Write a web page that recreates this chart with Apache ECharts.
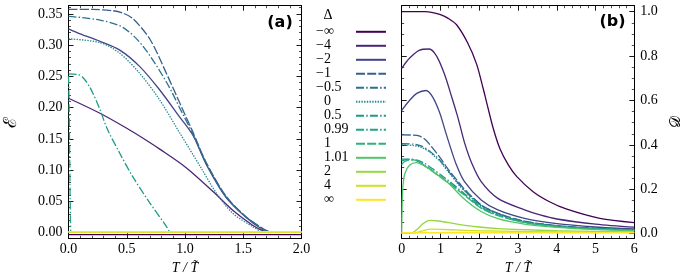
<!DOCTYPE html>
<html><head><meta charset="utf-8">
<script src="https://cdn.jsdelivr.net/npm/echarts@6/dist/echarts.min.js"></script>
<style>html,body{margin:0;padding:0;background:#fff}#c{width:686px;height:275px}</style>
</head><body><div id="c"></div>
<script>
// ---------- data ----------
const deltaNames = ['\u2212\u221e','\u22124','\u22122','\u22121','\u22120.5','0','0.5','0.99','1','1.01','2','4','\u221e'];
const colors = ['#440154','#482576','#414487','#35608d','#2c728e','#23898e','#1f9a8a','#22a385','#2db27d','#52c569','#95d840','#cde11d','#fde725'];
const dashes = ['solid','solid','solid','dashed','dashdot','dotted','dashdot','dashdot','dashed','solid','solid','solid','solid'];

// panel (a): E vs T/T~   [T, E]
const E_minf = [[0,-0.003],[2,-0.003]];
const E_m4 = [[0,0.215],[0.27,0.191],[0.5,0.167],[0.64,0.151],[0.78,0.134],[1.01,0.104],[1.24,0.066],[1.41,0.036],[1.58,0.012],[1.68,0.002],[1.72,0]];
const E_m2 = [[0,0.326],[0.1,0.318],[0.27,0.306],[0.44,0.292],[0.61,0.266],[0.78,0.229],[0.95,0.186],[1.07,0.155],[1.18,0.11],[1.35,0.057],[1.52,0.025],[1.65,0.007],[1.74,0]];
const E_m1 = [[0,0.357],[0.2,0.357],[0.38,0.355],[0.47,0.351],[0.555,0.342],[0.7,0.309],[0.84,0.255],[0.98,0.197],[1.07,0.16],[1.18,0.113],[1.35,0.059],[1.52,0.026],[1.69,0.004],[1.75,0]];
const E_m05 = [[0,0.346],[0.27,0.34],[0.47,0.328],[0.64,0.298],[0.84,0.241],[0.98,0.19],[1.07,0.157],[1.18,0.112],[1.35,0.058],[1.52,0.026],[1.69,0.004],[1.75,0]];
const E_0 = [[0,0.31],[0.27,0.304],[0.44,0.287],[0.61,0.255],[0.78,0.213],[0.95,0.161],[1.13,0.106],[1.27,0.063],[1.41,0.031],[1.58,0.0096],[1.67,0]];
const E_05 = [[0,0.254],[0.08,0.253],[0.12,0.249],[0.185,0.232],[0.27,0.197],[0.33,0.167],[0.44,0.127],[0.55,0.09],[0.7,0.047],[0.84,0.01],[0.87,0]];
const E_099 = [[0,0.25],[0.004,0.22],[0.008,0.16],[0.012,0.09],[0.016,0.03],[0.019,0]];
const E_1 = [[0,0.001],[2,0.001]];
const E_101 = [[0,0.001],[2,0.001]];
const E_2 = [[0,0.001],[2,0.001]];
const E_4 = [[0,0.001],[2,0.001]];
const E_inf = [[0,0.0015],[2,0.0015]];

// panel (b): D vs T/T~   [T, D]
const D_minf = [[0,1],[0.6,1],[0.8,0.996],[1.0,0.987],[1.2,0.97],[1.42,0.94],[1.7,0.86],[1.93,0.765],[2.1,0.655],[2.2,0.585],[2.36,0.475],[2.54,0.38],[2.75,0.31],[2.97,0.257],[3.39,0.189],[3.8,0.145],[4.26,0.11],[5.11,0.069],[6,0.05]];
const D_m4 = [[0,0.745],[0.2,0.79],[0.45,0.826],[0.71,0.832],[0.9,0.8],[1.1,0.72],[1.3,0.61],[1.43,0.535],[1.5,0.49],[1.62,0.41],[1.8,0.32],[2.05,0.234],[2.48,0.159],[3.17,0.107],[3.57,0.084],[4,0.066],[5,0.043],[6,0.029]];
const D_m2 = [[0,0.555],[0.2,0.6],[0.4,0.633],[0.63,0.645],[0.8,0.615],[0.98,0.545],[1.12,0.465],[1.2,0.42],[1.4,0.315],[1.62,0.234],[2.05,0.152],[2.48,0.107],[3.17,0.069],[4,0.045],[5,0.03],[6,0.021]];
const D_m1 = [[0,0.445],[0.3,0.444],[0.45,0.44],[0.6,0.425],[0.8,0.385],[1.0,0.34],[1.2,0.29],[1.5,0.225],[1.62,0.2],[2.05,0.13],[2.48,0.092],[3.17,0.056],[4,0.036],[5,0.024],[6,0.018]];
const D_m05 = [[0,0.405],[0.3,0.403],[0.5,0.395],[0.7,0.375],[0.9,0.345],[1.0,0.328],[1.2,0.283],[1.5,0.218],[1.62,0.195],[2.05,0.127],[2.48,0.09],[3.17,0.055],[4,0.035],[5,0.024],[6,0.017]];
const D_0 = [[0,0.4],[0.3,0.397],[0.5,0.389],[0.7,0.37],[0.9,0.34],[1.0,0.323],[1.2,0.279],[1.5,0.214],[1.62,0.192],[2.05,0.125],[2.48,0.088],[3.17,0.054],[4,0.034],[5,0.023],[6,0.017]];
const D_05 = [[0,0.336],[0.2,0.336],[0.4,0.331],[0.6,0.316],[0.8,0.292],[1.0,0.266],[1.2,0.24],[1.5,0.197],[1.62,0.18],[2.05,0.12],[2.48,0.085],[3.17,0.052],[4,0.033],[5,0.022],[6,0.016]];
const D_099 = [[0,0.328],[0.15,0.334],[0.35,0.33],[0.6,0.308],[0.8,0.284],[1.0,0.258],[1.2,0.233],[1.5,0.192],[1.62,0.176],[2.05,0.117],[2.48,0.083],[3.17,0.051],[4,0.032],[5,0.022],[6,0.016]];
const D_1 = [[0,0.31],[0.05,0.322],[0.15,0.33],[0.3,0.332],[0.45,0.325],[0.6,0.305],[0.8,0.28],[1.0,0.254],[1.2,0.229],[1.5,0.189],[1.62,0.173],[2.05,0.115],[2.48,0.081],[3.17,0.05],[4,0.031],[5,0.021],[6,0.015]];
const D_101 = [[0,0],[0.01,0.12],[0.03,0.21],[0.08,0.27],[0.2,0.308],[0.38,0.32],[0.55,0.308],[0.76,0.285],[1.0,0.255],[1.2,0.228],[1.62,0.155],[2.05,0.1],[2.5,0.066],[3.2,0.042],[4,0.028],[5,0.018],[6,0.013]];
const D_2 = [[0,0.001],[0.25,0.002],[0.4,0.02],[0.55,0.045],[0.72,0.06],[0.9,0.058],[1.2,0.05],[1.5,0.041],[1.93,0.031],[2.5,0.023],[3.14,0.018],[4,0.013],[5,0.01],[6,0.008]];
const D_4 = [[0,0.001],[0.3,0.002],[0.5,0.011],[0.75,0.02],[1.0,0.019],[1.5,0.016],[2,0.013],[3,0.01],[4,0.008],[5,0.006],[6,0.005]];
const D_inf = [[0,0.004],[6,0.004]];

const xTicksA = {min:0, max:2, interval:0.5};
const yRangeA = {min:-0.009, max:0.363, splitNumber:7};
const xTicksB = {min:0, max:6, interval:1};
const yRangeB = {min:-0.021, max:1.027, splitNumber:5};

const panelA = [E_minf,E_m4,E_m2,E_m1,E_m05,E_0,E_05,E_099,E_1,E_101,E_2,E_4,E_inf];
const panelB = [D_minf,D_m4,D_m2,D_m1,D_m05,D_0,D_05,D_099,D_1,D_101,D_2,D_4,D_inf];

// ---------- styling ----------
const SERIF = 'Liberation Serif';
const dashMap = {solid:'solid', dashed:[9,2.2], dashdot:[8,2.2,1.5,2.2], dotted:[1.4,1.3]};
function lineType(d){ return dashMap[d]; }

function minor(n){ return {show:true, splitNumber:n, length:2.5, lineStyle:{color:'#000', width:0.7}}; }
function axisCommon(extra){
  return Object.assign({
    type:'value',
    axisLine:{show:true, onZero:false, lineStyle:{color:'#000', width:1}},
    axisTick:{show:true, inside:true, length:5, lineStyle:{color:'#000', width:0.9}},
    splitLine:{show:false},
    axisLabel:{color:'#000', fontFamily:SERIF, fontSize:14}
  }, extra);
}
const nameStyle = {color:'#000', fontFamily:SERIF, fontStyle:'italic', fontSize:14};

const xAxis = [
  axisCommon(Object.assign({gridIndex:0, position:'bottom', minorTick:minor(5),
    axisLabel:{color:'#000', fontFamily:SERIF, fontSize:14, margin:4, formatter:v=>v.toFixed(1)},
    name:'T / T\u0303', nameLocation:'middle', nameGap:21, nameTextStyle:nameStyle}, xTicksA)),
  axisCommon(Object.assign({gridIndex:0, position:'top', minorTick:minor(5), axisLabel:{show:false}}, xTicksA)),
  axisCommon(Object.assign({gridIndex:1, position:'bottom', minorTick:minor(5),
    axisLabel:{color:'#000', fontFamily:SERIF, fontSize:14, margin:4, formatter:v=>String(v)},
    name:'T / T\u0303', nameLocation:'middle', nameGap:21, nameTextStyle:nameStyle}, xTicksB)),
  axisCommon(Object.assign({gridIndex:1, position:'top', minorTick:minor(5), axisLabel:{show:false}}, xTicksB))
];
const yAxis = [
  axisCommon(Object.assign({gridIndex:0, position:'left', minorTick:minor(5),
    axisLabel:{color:'#000', fontFamily:SERIF, fontSize:14, margin:6, showMinLabel:false, showMaxLabel:false, formatter:v=>v.toFixed(2)},
    name:'\u2130', nameLocation:'middle', nameGap:48, nameRotate:90, nameTextStyle:{color:'#000', fontFamily:'DejaVu Serif', fontSize:18}}, yRangeA)),
  axisCommon(Object.assign({gridIndex:0, position:'right', minorTick:minor(5), axisLabel:{show:false}}, yRangeA)),
  axisCommon(Object.assign({gridIndex:1, position:'right', minorTick:minor(4),
    axisLabel:{color:'#000', fontFamily:SERIF, fontSize:14, margin:6, showMinLabel:false, showMaxLabel:false, formatter:v=>v.toFixed(1)},
    name:'\ud835\udc9f', nameLocation:'middle', nameGap:34, nameRotate:90, nameTextStyle:{color:'#000', fontFamily:'DejaVu Serif', fontSize:15}}, yRangeB)),
  axisCommon(Object.assign({gridIndex:1, position:'left', minorTick:minor(4), axisLabel:{show:false}}, yRangeB))
];

const SMOOTH = 0.3;
const series = [];
panelA.forEach((d,i)=>series.push({type:'line', name:deltaNames[i], xAxisIndex:0, yAxisIndex:0, data:d, symbol:'none', smooth:SMOOTH,
  lineStyle:{color:colors[i], width:1.3, type:lineType(dashes[i])}, itemStyle:{color:colors[i]}, animation:false, clip:true}));
panelB.forEach((d,i)=>series.push({type:'line', name:deltaNames[i], xAxisIndex:2, yAxisIndex:2, data:d, symbol:'none', smooth:SMOOTH,
  lineStyle:{color:colors[i], width:1.3, type:lineType(dashes[i])}, itemStyle:{color:colors[i]}, animation:false, clip:true}));

// legend label: minus sign hangs left, numbers left-aligned in a fixed column
const LFONT = '14px "Liberation Serif"';
const mctx = document.createElement('canvas').getContext('2d');
mctx.font = LFONT;
const NUMCOL = 27;
const richTxt = { m:{width:10, align:'right', fontFamily:SERIF, fontSize:14, lineHeight:16.33, color:'#000'} };
const legendKey = {};
deltaNames.forEach((nm,i)=>{
  const body = nm.charAt(0)==='\u2212' ? nm.slice(1) : nm;
  const w = mctx.measureText(body).width;
  richTxt['n'+i] = {fontFamily:SERIF, fontSize:14, lineHeight:16.33, color:'#000', padding:[0, Math.max(0, NUMCOL - w), 0, 0]};
  legendKey[nm] = (nm.charAt(0)==='\u2212' ? '{m|\u2212}' : '{m| }') + '{n'+i+'|'+body+'}';
});

const option = {
  animation:false,
  backgroundColor:'#fff',
  grid:[
    {left:68.5, top:5.7, width:233, height:232.6, containLabel:false, outerBoundsMode:'none'},
    {left:401.7, top:5.7, width:232.6, height:232.6, containLabel:false, outerBoundsMode:'none'}
  ],
  xAxis, yAxis, series,
  legend:{
    orient:'vertical', left:314, top:24.8, padding:0, itemGap:0, itemWidth:30, itemHeight:16.33,
    align:'right', selectedMode:false, data:deltaNames,
    itemStyle:{opacity:0},
    formatter:function(name){ return legendKey[name]; },
    textStyle:{rich:richTxt, fontFamily:SERIF, fontSize:14, color:'#000'}
  },
  graphic:[
    {type:'text', x:280, y:22.5, style:{text:'(a)', textAlign:'center', textVerticalAlign:'middle', font:'bold 16px "DejaVu Sans"', fill:'#000'}},
    {type:'text', x:612.5, y:21.5, style:{text:'(b)', textAlign:'center', textVerticalAlign:'middle', font:'bold 16px "DejaVu Sans"', fill:'#000'}},
    {type:'text', x:328, y:15, style:{text:'\u0394', textAlign:'center', textVerticalAlign:'middle', font:'14px "Liberation Serif"', fill:'#000'}}
  ]
};
const chart = echarts.init(document.getElementById('c'), null, {renderer:'canvas'});
chart.setOption(option);
</script>
</body></html>
